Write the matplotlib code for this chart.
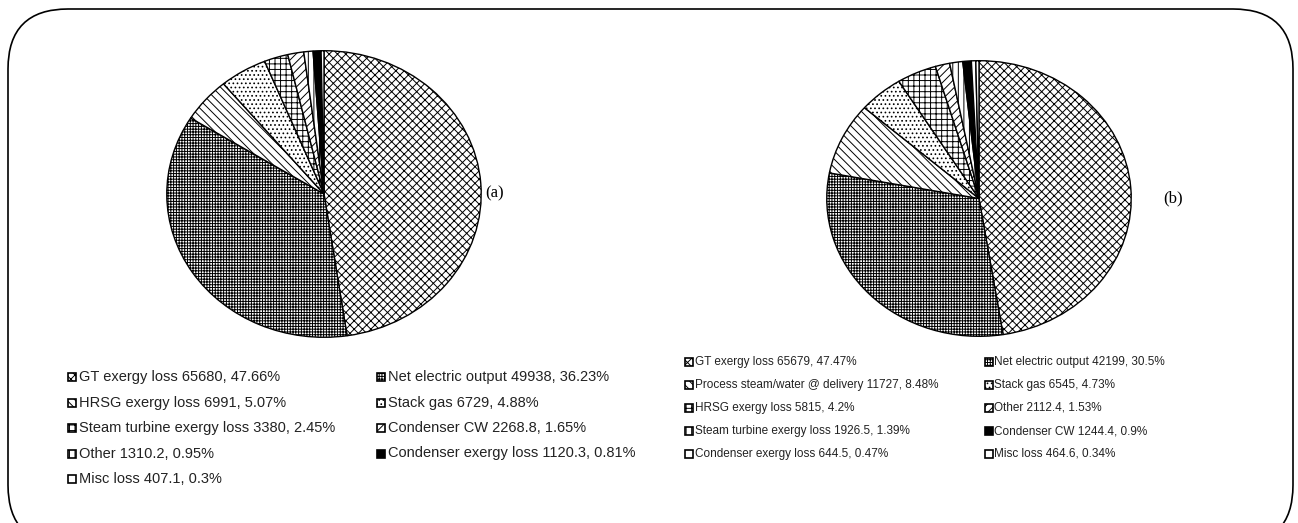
import matplotlib
matplotlib.use("Agg")
import matplotlib.pyplot as plt
from matplotlib.patches import Rectangle, FancyBboxPatch
from matplotlib.transforms import IdentityTransform

# ---------------- data ----------------
labels_a = ["GT exergy loss", "Net electric output", "HRSG exergy loss", "Stack gas",
            "Steam turbine exergy loss", "Condenser CW", "Other",
            "Condenser exergy loss", "Misc loss"]
values_a = [65680, 49938, 6991, 6729, 3380, 2268.8, 1310.2, 1120.3, 407.1]
pct_a = ["47.66%", "36.23%", "5.07%", "4.88%", "2.45%", "1.65%", "0.95%", "0.81%", "0.3%"]
vals_a_txt = ["65680", "49938", "6991", "6729", "3380", "2268.8", "1310.2", "1120.3", "407.1"]

labels_b = ["GT exergy loss", "Net electric output", "Process steam/water @ delivery", "Stack gas",
            "HRSG exergy loss", "Other", "Steam turbine exergy loss", "Condenser CW",
            "Condenser exergy loss", "Misc loss"]
values_b = [65679, 42199, 11727, 6545, 5815, 2112.4, 1926.5, 1244.4, 644.5, 464.6]
pct_b = ["47.47%", "30.5%", "8.48%", "4.73%", "4.2%", "1.53%", "1.39%", "0.9%", "0.47%", "0.34%"]
vals_b_txt = ["65679", "42199", "11727", "6545", "5815", "2112.4", "1926.5", "1244.4", "644.5", "464.6"]

# slice styles by position (Excel-like pattern fills)
hatches = ["xxxx", "++++++", "\\\\\\\\", "....", "+++", "////", "|||", "", "", ""]
faces = ["white", "white", "white", "white", "white", "white", "white", "black", "white", "white"]

W, H = 1298, 523
plt.rcParams["hatch.linewidth"] = 0.7
fig = plt.figure(figsize=(W / 100, H / 100), dpi=100)


def fx(x):
    return x / W


def fy(y):
    return 1 - y / H


def pie_axes(left, right, top, bottom):
    return fig.add_axes([fx(left), fy(bottom), (right - left) / W, (bottom - top) / H])


def draw_pie(ax, values):
    n = len(values)
    hs = hatches[:n]
    fcs = faces[:n]
    wedges, _ = ax.pie(values, startangle=90, counterclock=False,
                       wedgeprops=dict(edgecolor="black", linewidth=1.0))
    for w, h, c in zip(wedges, hs, fcs):
        w.set_hatch(h)
        w.set_facecolor(c)
    ax.set_aspect("auto")
    ax.set_xlim(-1.005, 1.005)
    ax.set_ylim(-1.005, 1.005)
    return hs, fcs


ax_a = pie_axes(166, 482, 50, 338)
hs_a, fc_a = draw_pie(ax_a, values_a)
ax_b = pie_axes(826, 1132, 60, 337)
hs_b, fc_b = draw_pie(ax_b, values_b)

fig.text(fx(485), fy(193), "(a)", family="Liberation Serif", fontsize=12, va="center", ha="left")
fig.text(fx(1163), fy(198), "(b)", family="Liberation Serif", fontsize=12, va="center", ha="left")


def legend(labels, vals, pcts, hs, fcs, xcols, rows, size, fs):
    for i, lab in enumerate(labels):
        r, c = divmod(i, 2)
        mx, tx = xcols[c]
        y = rows[r]
        fig.add_artist(Rectangle((fx(mx), fy(y + size / 2)), size / W, size / H,
                                 transform=fig.transFigure, facecolor=fcs[i],
                                 edgecolor="black", linewidth=1.2, hatch=hs[i]))
        fig.text(fx(tx), fy(y), f"{lab} {vals[i]}, {pcts[i]}", family="Liberation Sans",
                 fontsize=fs, va="center", ha="left", color="#222222")


legend(labels_a, vals_a_txt, pct_a, hs_a, fc_a, [(68, 79), (377, 388)],
       [377, 402.5, 428, 453.5, 479], 8, 10.5)
legend(labels_b, vals_b_txt, pct_b, hs_b, fc_b, [(685, 695), (985, 994)],
       [362, 385, 408, 431, 454], 8, 8.5)

# rounded outer frame (pixel coordinates, origin bottom-left)
frame = FancyBboxPatch((8, H - 545), 1285, 545 - 9,
                       boxstyle="round,pad=0,rounding_size=60",
                       transform=IdentityTransform(), facecolor="none",
                       edgecolor="black", linewidth=1.2)
fig.add_artist(frame)

fig.savefig("out.png", dpi=100)
